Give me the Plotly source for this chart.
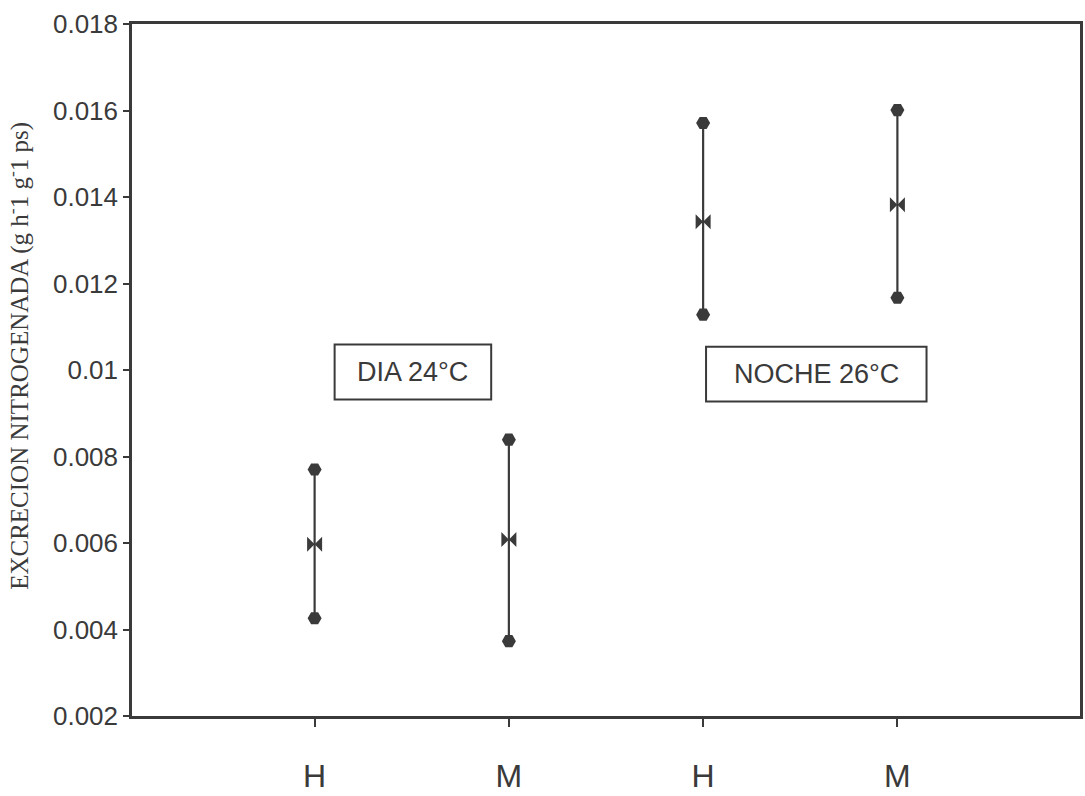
import plotly.graph_objects as go

# Data
categories = ["H", "M", "H", "M"]
x_pos = [1, 2, 3, 4]
mean_vals = [0.00597, 0.00608, 0.01343, 0.01382]
upper_vals = [0.00770, 0.00839, 0.01571, 0.01601]
lower_vals = [0.00426, 0.00373, 0.01128, 0.01167]
y_ticks = [0.002, 0.004, 0.006, 0.008, 0.01, 0.012, 0.014, 0.016, 0.018]
y_ticklabels = ["0.002", "0.004", "0.006", "0.008", "0.01", "0.012", "0.014", "0.016", "0.018"]
group_labels = ["DIA 24°C", "NOCHE 26°C"]

INK = "#3a3a3a"

fig = go.Figure()

# vertical range lines (error bars) with centre markers
fig.add_trace(go.Scatter(
    x=x_pos, y=mean_vals, mode="markers",
    marker=dict(symbol="bowtie", size=15, color=INK, line=dict(width=0)),
    error_y=dict(type="data", symmetric=False,
                 array=[u - m for u, m in zip(upper_vals, mean_vals)],
                 arrayminus=[m - l for m, l in zip(mean_vals, lower_vals)],
                 color=INK, thickness=2.2, width=0),
    showlegend=False, hoverinfo="skip"))

# end caps
fig.add_trace(go.Scatter(
    x=x_pos + x_pos, y=upper_vals + lower_vals, mode="markers",
    marker=dict(symbol="hexagon2", size=14, color=INK, line=dict(width=0)),
    showlegend=False, hoverinfo="skip"))

# group label boxes
boxes = [(1.103, 1.909, 0.00932, 0.01059), (3.015, 4.15, 0.00927, 0.01054)]
for (x0, x1, y0, y1), lab in zip(boxes, group_labels):
    fig.add_shape(type="rect", xref="x", yref="y", x0=x0, x1=x1, y0=y0, y1=y1,
                  line=dict(color=INK, width=2), fillcolor="white", layer="above")
    fig.add_annotation(x=(x0 + x1) / 2, y=(y0 + y1) / 2, xref="x", yref="y",
                       text=lab, showarrow=False,
                       font=dict(family="Liberation Sans, Arial", size=27, color=INK))

# y-axis title
fig.add_annotation(xref="paper", yref="paper", x=(18 - 132) / 951, y=0.521,
                   text="EXCRECION NITROGENADA (g h<sup>-</sup>1 g<sup>-</sup>1 ps)",
                   textangle=-90, showarrow=False, xanchor="center", yanchor="middle",
                   font=dict(family="Liberation Serif, Times New Roman", size=25, color=INK))

fig.update_layout(
    width=1085, height=796,
    margin=dict(l=132, r=2, t=24, b=79),
    paper_bgcolor="white", plot_bgcolor="white",
    showlegend=False,
)
fig.update_xaxes(range=[0.06, 4.94], tickvals=x_pos, ticktext=categories,
                 ticks="outside", ticklen=8, tickwidth=2, tickcolor=INK,
                 ticklabelstandoff=22,
                 showline=True, linewidth=2.5, linecolor=INK, mirror=True,
                 showgrid=False, zeroline=False,
                 tickfont=dict(family="Liberation Sans, Arial", size=32, color=INK))
fig.update_yaxes(range=[0.002, 0.018], tickvals=y_ticks, ticktext=y_ticklabels,
                 ticks="outside", ticklen=6, tickwidth=2, tickcolor=INK,
                 showline=True, linewidth=2.5, linecolor=INK, mirror=True,
                 showgrid=False, zeroline=False,
                 tickfont=dict(family="Liberation Sans, Arial", size=26, color=INK))

fig.write_html("out.html")
